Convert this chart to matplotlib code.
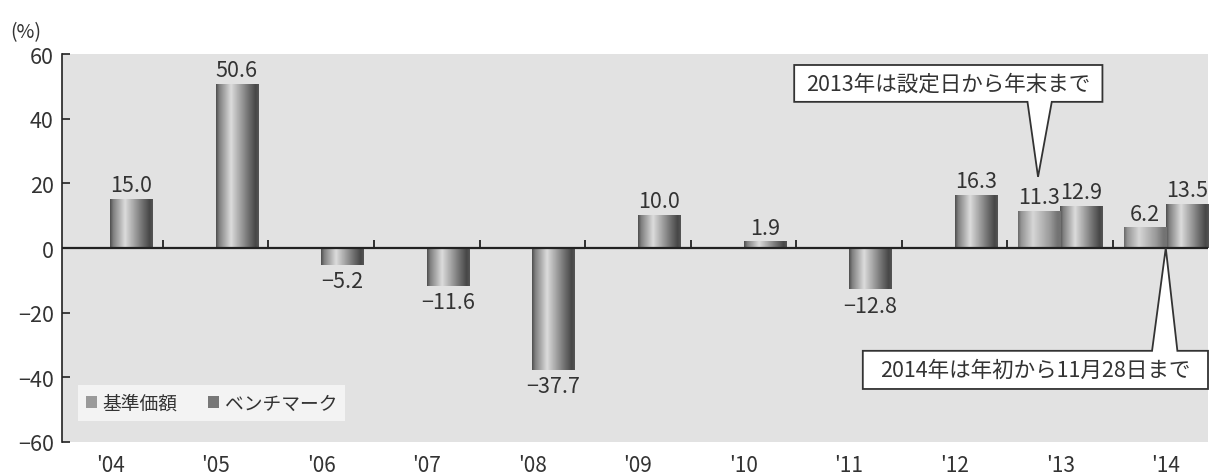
import numpy as np
import matplotlib
matplotlib.use('Agg')
import matplotlib.pyplot as plt
from matplotlib.patches import Patch, Polygon

plt.rcParams['font.family'] = ['Noto Sans CJK JP', 'DejaVu Sans']

YEARS = ["'04", "'05", "'06", "'07", "'08", "'09", "'10", "'11", "'12", "'13", "'14"]
BENCH = [15.0, 50.6, -5.2, -11.6, -37.7, 10.0, 1.9, -12.8, 16.3, 12.9, 13.5]
NAV = [np.nan] * 9 + [11.3, 6.2]
NOTE_2013 = '2013年は設定日から年末まで'
NOTE_2014 = '2014年は年初から11月28日まで'

TXT = '#333333'
BG = '#e2e2e2'
W = 0.4


def shade_bar(ax, rect, stops, vals):
    x0, y0 = rect.get_x(), rect.get_y()
    x1, y1 = x0 + rect.get_width(), y0 + rect.get_height()
    t = np.linspace(0, 1, 64)
    g = np.interp(t, stops, vals)[None, :]
    ax.imshow(g, extent=[x0, x1, min(y0, y1), max(y0, y1)], aspect='auto',
              cmap='gray', vmin=0, vmax=1, zorder=3, interpolation='bilinear')


fig = plt.figure(figsize=(12.11, 4.77), dpi=100)
ax = fig.add_axes([62 / 1211, 1 - 443 / 477, 1146 / 1211, 388 / 477])
ax.set_facecolor(BG)

x = np.arange(len(YEARS))
nav = np.array(NAV)
bench = np.array(BENCH)

bars_b = ax.bar(x + W / 2, bench, W, color='none', zorder=3)
bars_n = ax.bar(x - W / 2, np.nan_to_num(nav), W, color='none', zorder=3)

for r in bars_b:
    shade_bar(ax, r, [0, 0.07, 0.35, 0.75, 0.93, 1], [0.32, 0.5, 0.86, 0.45, 0.28, 0.33])
for r, v in zip(bars_n, nav):
    if np.isfinite(v):
        shade_bar(ax, r, [0, 0.07, 0.35, 0.75, 0.93, 1], [0.42, 0.58, 0.84, 0.6, 0.45, 0.45])

# value labels
for xi, v in zip(x + W / 2, bench):
    ax.text(xi, v + (1.0 if v >= 0 else -1.6), f'{v:.1f}'.replace('-', '\u2212'),
            ha='center', va='bottom' if v >= 0 else 'top', fontsize=15.5, color=TXT, zorder=5)
for xi, v in zip(x - W / 2, nav):
    if np.isfinite(v):
        ax.text(xi, v + 1.0, f'{v:.1f}', ha='center', va='bottom', fontsize=15.5,
                color=TXT, zorder=5)

# zero line with boundary ticks
ax.axhline(0, color='#222222', lw=1.6, zorder=4)
ax.vlines(x[:-1] + 0.5, 0, 2.6, color='#222222', lw=1.3, zorder=4)

ax.set_xlim(-0.456, 10.40)
ax.set_ylim(-60, 60)
ax.set_yticks(range(-60, 61, 20))
ax.set_yticklabels([str(v).replace('-', '\u2212') for v in range(-60, 61, 20)])
ax.set_xticks(x)
ax.set_xticklabels(YEARS)
ax.tick_params(axis='x', length=0, pad=9, labelsize=15, labelcolor=TXT)
ax.tick_params(axis='y', direction='in', length=6, width=1.2, color='#222222',
               labelsize=15.5, labelcolor=TXT, pad=6)
for s in ['top', 'right', 'bottom']:
    ax.spines[s].set_visible(False)
ax.spines['left'].set_color('#222222')
ax.spines['left'].set_linewidth(1.2)

ax.text(-0.032, 1.058, '(%)', transform=ax.transAxes, ha='center', va='center',
        fontsize=14, color=TXT)

# legend
handles = [Patch(facecolor='#9a9a9a', edgecolor='none'),
           Patch(facecolor='#777777', edgecolor='none')]
leg = ax.legend(handles, ['基準価額', 'ベンチマーク'], loc='lower left',
                bbox_to_anchor=(0.006, 0.03), ncol=2, frameon=True, fontsize=13.5,
                handlelength=0.6, handleheight=0.6, handletextpad=0.3,
                columnspacing=1.6, borderpad=0.4, fancybox=False)
leg.get_frame().set_facecolor('#f8f8f8')
leg.get_frame().set_edgecolor('none')
for t in leg.get_texts():
    t.set_color(TXT)

# callouts
bx0, bx1, by0, by1 = 6.48, 9.40, 45.2, 56.6
poly1 = Polygon([(bx0, by1), (bx1, by1), (bx1, by0), (8.92, by0), (8.79, 22.0),
                 (8.69, by0), (bx0, by0)], closed=True, facecolor='white',
                edgecolor='#333333', lw=1.3, zorder=6, clip_on=False)
ax.add_patch(poly1)
ax.text((bx0 + bx1) / 2, (by0 + by1) / 2, NOTE_2013, ha='center', va='center',
        fontsize=15.5, color=TXT, zorder=7)

cx0, cx1, cy0, cy1 = 7.13, 10.40, -43.6, -31.8
poly2 = Polygon([(cx0, cy1), (9.87, cy1), (10.0, 0.0), (10.11, cy1), (cx1, cy1),
                 (cx1, cy0), (cx0, cy0)], closed=True, facecolor='white',
                edgecolor='#333333', lw=1.3, zorder=6, clip_on=False)
ax.add_patch(poly2)
ax.text((cx0 + cx1) / 2, (cy0 + cy1) / 2, NOTE_2014, ha='center', va='center',
        fontsize=15.5, color=TXT, zorder=7)

fig.savefig('out.png', dpi=100, facecolor='white')
